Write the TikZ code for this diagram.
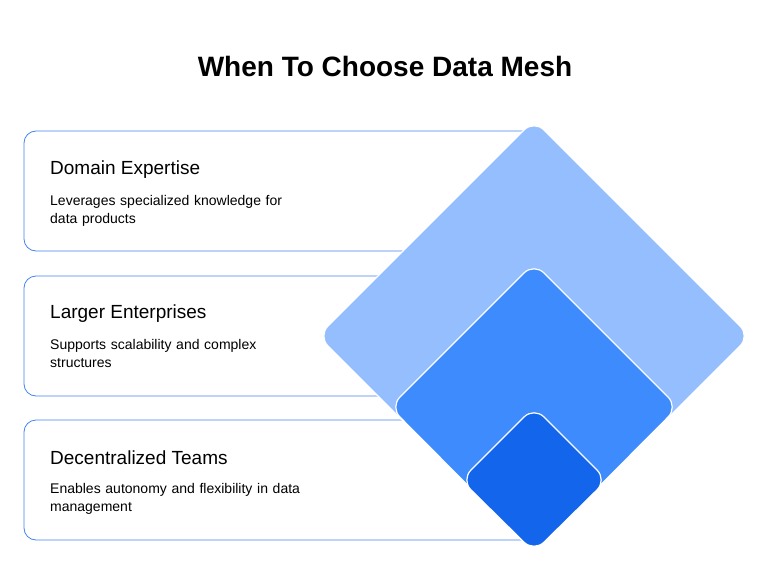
\documentclass[tikz,border=0pt]{standalone}
\usepackage{fontspec}
\setmainfont{Liberation Sans}
\begin{document}
\begin{tikzpicture}[x=1pt,y=-1pt,
  card/.style={draw={rgb,255:red,70;green,130;blue,240}, line width=0.8pt, rounded corners=12pt, fill=white},
  head/.style={anchor=west, inner sep=0pt, font=\fontsize{19}{22}\selectfont},
  desc/.style={anchor=north west, font=\fontsize{14}{18}\selectfont, align=left, text width=262pt, inner sep=0pt, execute at begin node={\hyphenpenalty=10000\exhyphenpenalty=10000}},
  dia/.style={draw=white, line width=1.2pt, rounded corners=14pt}]
\useasboundingbox (0,0) rectangle (770,580);
\definecolor{dA}{RGB}{148,190,253}
\definecolor{dB}{RGB}{61,139,253}
\definecolor{dC}{RGB}{19,102,235}
\node[font=\bfseries\fontsize{28}{32}\selectfont] (title) at (385,66) {When To Choose Data Mesh};
\draw[card] (24,131) rectangle (540,251);
\draw[card] (24,276) rectangle (540,396);
\draw[card] (24,420) rectangle (540,540);
\node[head] (h1) at (50,170) {Domain Expertise};
\node[desc] (d1) at (50,195) {Leverages specialized knowledge for data products};
\node[head] (h2) at (50,314) {Larger Enterprises};
\node[desc] (d2) at (50,339) {Supports scalability and complex structures};
\node[head] (h3) at (50,458) {Decentralized Teams};
\node[desc] (d3) at (50,483) {Enables autonomy and flexibility in data management};
\draw[dia, fill=dA] (534,120) -- (750,336) -- (534,552) -- (318,336) -- cycle;
\draw[dia, fill=dB] (534,263) -- (678,407) -- (534,552) -- (390,407) -- cycle;
\draw[dia, fill=dC] (534,407) -- (607,480) -- (534,552) -- (461,480) -- cycle;
\end{tikzpicture}
\end{document}
